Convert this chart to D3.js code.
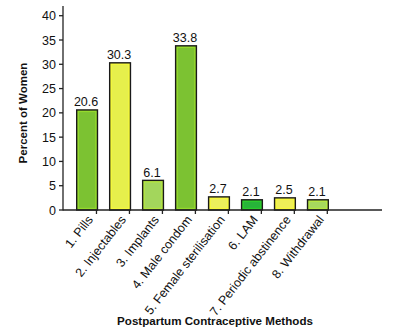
<!DOCTYPE html>
<html>
<head>
<meta charset="utf-8">
<script src="https://cdn.jsdelivr.net/npm/d3@7/dist/d3.min.js"></script>
<style>
  html, body { margin: 0; padding: 0; background: #fff; }
  svg { display: block; font-family: "Liberation Sans", Arial, sans-serif; }
</style>
</head>
<body>
<svg id="chart" width="395" height="334"></svg>
<script>
// Postpartum contraceptive method use
const methods = ["1. Pills", "2. Injectables", "3. Implants", "4. Male condom",
  "5. Female sterilisation", "6. LAM", "7. Periodic abstinence", "8. Withdrawal"];
const percents = [20.6, 30.3, 6.1, 33.8, 2.7, 2.1, 2.5, 2.1];
const fillColors = ["#7cc232", "#e6ef4c", "#a3d65c", "#7cc232", "#ecef5c", "#27b43a", "#eeef58", "#a6d85e"];
const edgeColors = ["#95da2c", "#f4f83c", "#b4e640", "#95da2c", "#f6f83c", "#2ccc2c", "#f6f83c", "#b6e844"];
const yTicks = [0, 5, 10, 15, 20, 25, 30, 35, 40];

const svg = d3.select("#chart");

const x = d3.scaleBand().domain(methods).range([64.5, 340.5]).padding(0.37);
const y = d3.scaleLinear().domain([0, 42]).range([210, 6]);

const axisLeft = 63;
const axisBottom = 210;
const ink = "#111";

// bars: dark outline, bright rim, flat inner fill
const bars = svg.append("g");
methods.forEach((m, i) => {
  const bx = x(m), bw = x.bandwidth();
  const by = y(percents[i]), bh = y(0) - y(percents[i]);
  bars.append("rect")
    .attr("x", bx).attr("y", by).attr("width", bw).attr("height", bh)
    .attr("fill", edgeColors[i]).attr("stroke", "#1a1a1a").attr("stroke-width", 1.4);
  if (bh > 5) {
    bars.append("rect")
      .attr("x", bx + 2.2).attr("y", by + 2.2)
      .attr("width", bw - 4.4).attr("height", Math.max(0, bh - 4.4))
      .attr("fill", fillColors[i]);
  }
  svg.append("text")
    .attr("x", bx + bw / 2 - 1).attr("y", by - 3.5)
    .attr("text-anchor", "middle")
    .attr("font-size", 12.5).attr("fill", ink)
    .text(percents[i].toFixed(1));
});

// y axis
const yAxis = svg.append("g");
yAxis.append("line")
  .attr("x1", axisLeft).attr("x2", axisLeft)
  .attr("y1", y(42)).attr("y2", axisBottom + 0.5)
  .attr("stroke", "#222").attr("stroke-width", 1.3);
yTicks.forEach(t => {
  yAxis.append("line")
    .attr("x1", axisLeft - 4).attr("x2", axisLeft)
    .attr("y1", y(t)).attr("y2", y(t))
    .attr("stroke", "#222").attr("stroke-width", 1.3);
  yAxis.append("text")
    .attr("x", axisLeft - 7).attr("y", y(t)).attr("dy", "0.36em")
    .attr("text-anchor", "end").attr("font-size", 12.5).attr("fill", ink)
    .text(t);
});

// x axis with ticks between categories
const xAxis = svg.append("g");
xAxis.append("line")
  .attr("x1", axisLeft).attr("x2", 382)
  .attr("y1", axisBottom).attr("y2", axisBottom)
  .attr("stroke", "#222").attr("stroke-width", 1.3);
const step = x.step();
methods.forEach((m, i) => {
  const tx = x.range()[0] + (i + 1) * step - 1;
  xAxis.append("line")
    .attr("x1", tx).attr("x2", tx)
    .attr("y1", axisBottom).attr("y2", axisBottom + 4)
    .attr("stroke", "#222").attr("stroke-width", 1.3);
  const cx = x(m) + x.bandwidth() / 2 + 3;
  xAxis.append("text")
    .attr("transform", `translate(${cx},${axisBottom + 7}) rotate(-52)`)
    .attr("text-anchor", "end").attr("dy", "0.36em")
    .attr("font-size", 12.5).attr("fill", ink)
    .text(m);
});

// axis titles
svg.append("text")
  .attr("transform", "translate(27,113) rotate(-90)")
  .attr("text-anchor", "middle").attr("font-size", 11.5).attr("font-weight", "bold").attr("fill", ink)
  .text("Percent of Women");
svg.append("text")
  .attr("x", 215).attr("y", 325)
  .attr("text-anchor", "middle").attr("font-size", 11.6).attr("font-weight", "bold").attr("fill", ink)
  .text("Postpartum Contraceptive Methods");
</script>
</body>
</html>
